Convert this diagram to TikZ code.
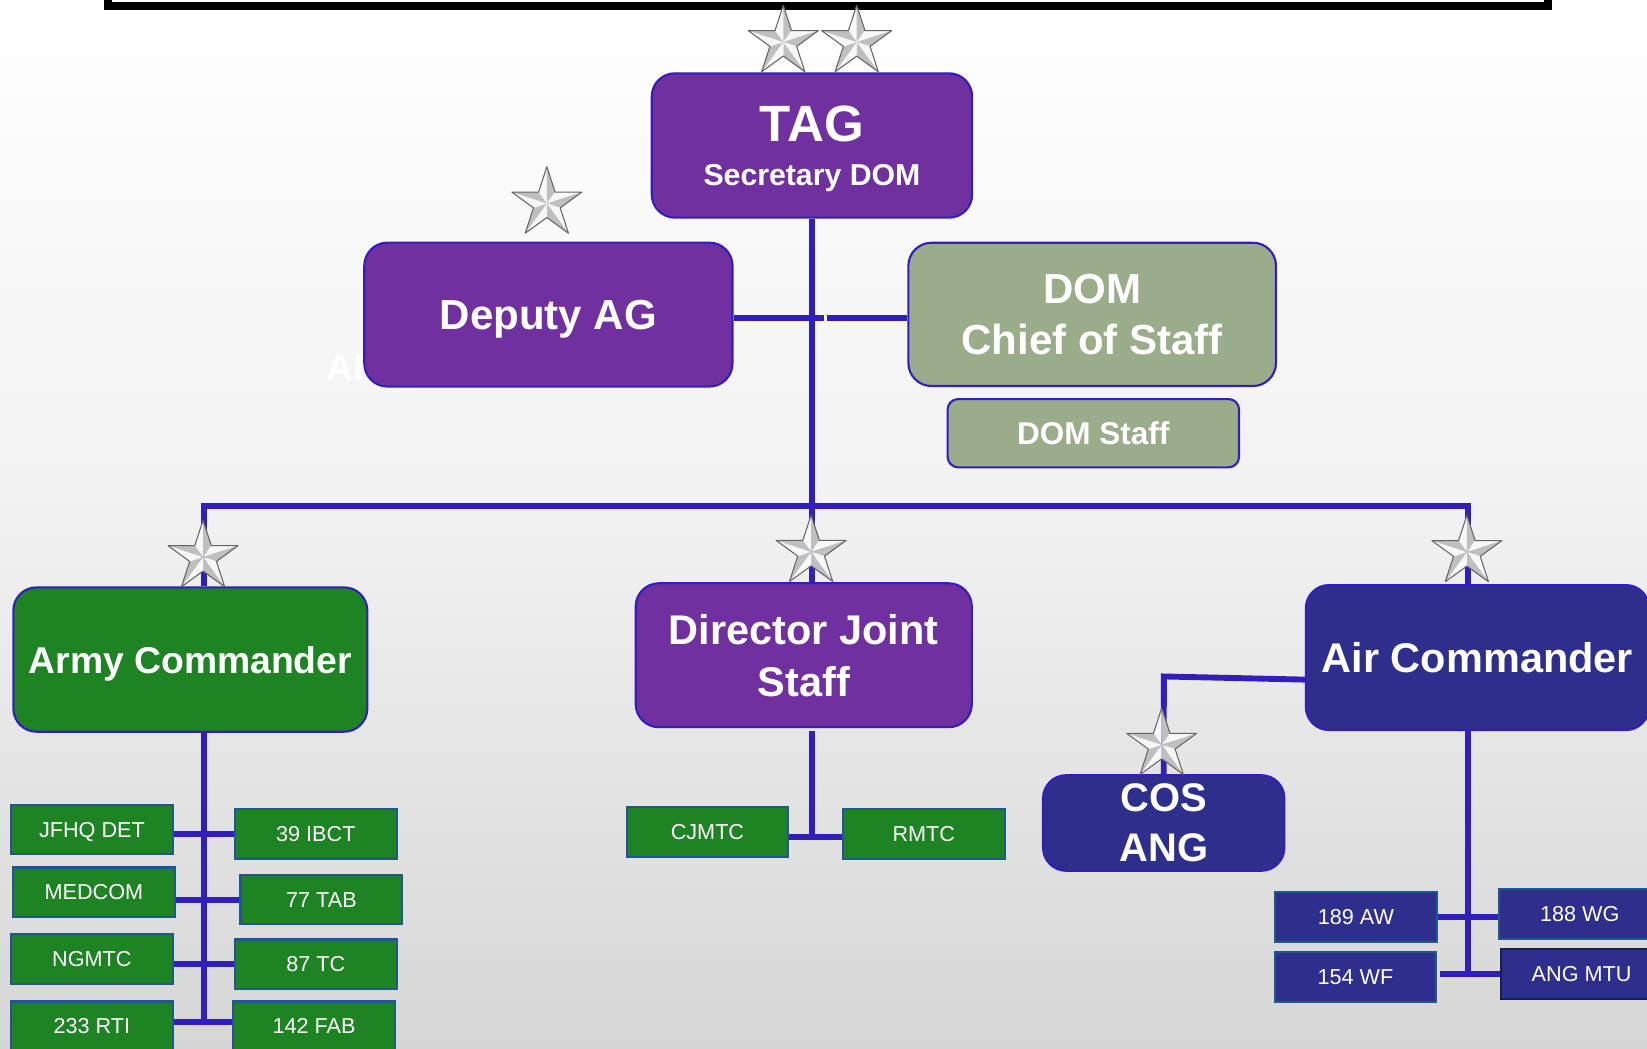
\documentclass[tikz,border=0pt]{standalone}
\usepackage{fontspec}
\setmainfont{Liberation Sans}
\definecolor{linkblue}{RGB}{50,30,190}
\definecolor{tagpurple}{RGB}{112,48,160}
\definecolor{armygreen}{RGB}{29,131,35}
\definecolor{airnavy}{RGB}{46,47,140}
\definecolor{sage}{RGB}{155,172,138}
\definecolor{unitedge}{RGB}{30,88,140}
\definecolor{mtuedge}{RGB}{20,30,90}
\definecolor{bgmid}{RGB}{241,241,241}
\definecolor{bggray}{RGB}{214,214,214}
\definecolor{starline}{RGB}{100,100,100}
\begin{document}
\begin{tikzpicture}[x=.5pt,y=-.5pt,
  link/.style={draw=linkblue,line width=2.8pt},
  bigbox/.style={draw=linkblue,line width=1pt,rounded corners=11pt,text=white,align=center,inner sep=0pt,text depth=0pt},
  unit/.style={draw=unitedge,line width=1pt,text=white,inner sep=0pt,text depth=0pt,minimum width=77pt,minimum height=23.5pt,font=\fontsize{10.3}{12}\selectfont},
  milstar/.pic={
    \foreach \k in {0,...,4}{
      \fill[gray!6] (0,0) -- ({-90+72*\k}:\starR) -- ({-126+72*\k}:\starr) -- cycle;
      \fill[gray!50] (0,0) -- ({-90+72*\k}:\starR) -- ({-54+72*\k}:\starr) -- cycle;
    }
    \draw[starline,line width=.5pt,line join=round] (-90:\starR)
      \foreach \k in {0,...,4}{ -- ({-54+72*\k}:\starr) -- ({-18+72*\k}:\starR)} -- cycle;
  }]
\def\starR{35}
\def\starr{13.4}
\useasboundingbox (0,0) rectangle (1568,998);
\clip (0,0) rectangle (1568,998);
\shade[top color=white,bottom color=bggray,middle color=bgmid] (0,0) rectangle (1568,998);
% lower edge of the title frame
\fill (99,0) rectangle (1478,9.5);
\fill[white] (107,0) rectangle (1470,1.7);
\node[text=white,font=\bfseries\fontsize{17.75}{20}\selectfont,anchor=base west] (ghost) at (303.7,361.8) {AR};

% top
\node[bigbox,fill=tagpurple,text depth=-3pt,minimum width=152.5pt,minimum height=68.7pt,font=\bfseries\fontsize{14.4}{20.75}\selectfont] (tag) at (773,138.5) {{\fontsize{24.3}{20.75}\selectfont TAG}\\Secretary DOM};
\node[bigbox,fill=tagpurple,minimum width=175.3pt,minimum height=68.5pt,font=\bfseries\fontsize{20}{24}\selectfont] (dep) at (522.1,299.5) {Deputy AG};
\node[bigbox,fill=sage,text depth=-1.5pt,minimum width=175pt,minimum height=68.2pt,font=\bfseries\fontsize{20}{24.5}\selectfont] (dom) at (1039.8,299.3) {DOM\\Chief of Staff};
\node[bigbox,fill=sage,rounded corners=5pt,minimum width=138.7pt,minimum height=32.5pt,font=\bfseries\fontsize{15}{18}\selectfont] (domstaff) at (1040.9,412.4) {DOM Staff};

% commanders
\node[bigbox,fill=armygreen,minimum width=168.5pt,minimum height=68.7pt,font=\bfseries\fontsize{17.75}{21}\selectfont] (army) at (181.2,627.9) {Army Commander};
\node[bigbox,fill=tagpurple,text depth=-1.5pt,minimum width=160pt,minimum height=68.5pt,font=\bfseries\fontsize{19.75}{24.9}\selectfont] (djs) at (765.2,623.8) {Director Joint\\Staff};
\node[bigbox,fill=airnavy,minimum width=163.4pt,minimum height=69pt,font=\bfseries\fontsize{19.75}{24}\selectfont] (air) at (1406.6,626) {Air Commander};
\node[bigbox,fill=airnavy,text depth=-2pt,minimum width=114.9pt,minimum height=45.5pt,font=\bfseries\fontsize{19}{23.8}\selectfont] (cos) at (1107.9,783.5) {COS\\ANG};

% army units
\node[unit,fill=armygreen] (jfhq) at (87.5,789.8) {JFHQ DET};
\node[unit,fill=armygreen] (ibct) at (300.7,793.8) {39 IBCT};
\node[unit,fill=armygreen] (medcom) at (89.4,849.4) {MEDCOM};
\node[unit,fill=armygreen] (tab) at (306,856.4) {77 TAB};
\node[unit,fill=armygreen] (ngmtc) at (87.5,913) {NGMTC};
\node[unit,fill=armygreen] (tc) at (300.7,917.9) {87 TC};
\node[unit,fill=armygreen] (rti) at (87.5,976.9) {233 RTI};
\node[unit,fill=armygreen] (fab) at (299,976.9) {142 FAB};
% joint units
\node[unit,fill=armygreen,minimum height=23.8pt] (cjmtc) at (673.5,792.4) {CJMTC};
\node[unit,fill=armygreen,minimum height=23.8pt] (rmtc) at (879.5,794) {RMTC};
% air units
\node[unit,fill=airnavy,minimum height=23.8pt] (aw189) at (1290.8,872.7) {189 AW};
\node[unit,fill=airnavy,minimum height=23.8pt] (wg188) at (1504,870.3) {188 WG};
\node[unit,fill=airnavy,minimum height=23.8pt] (wf154) at (1290.5,929.8) {154 WF};
\node[unit,fill=airnavy,draw=mtuedge,minimum height=23.8pt] (mtu) at (1505.7,927.5) {ANG MTU};

% trunk and bus
\coordinate (busL) at (194.4,482);
\coordinate (busM) at (773,482);
\coordinate (busR) at (1397.4,482);
\draw[link] (tag.south) -- (busM);
\draw[link] (busL |- army.north) -- (busL) -- (busR) -- (busR |- air.north);
\draw[link] (busM) -- (busM |- djs.north);
% Deputy AG -- DOM, broken at the trunk
\coordinate (gapL) at (784,303);
\coordinate (gapR) at (787,303);
\draw[link] (dep.east |- gapL) -- (gapL);
\draw[link] (gapR) -- (dom.west |- gapR);

% army branch
\coordinate (armyend) at (194.4,972.7);
\draw[link] (busL |- army.south) -- (armyend);
\draw[link] (jfhq.east |- ibct.west) -- (ibct.west);
\draw[link] (medcom.east |- tab.west) -- (tab.west);
\draw[link] (ngmtc.east |- tc.west) -- (tc.west);
\draw[link] (rti.east |- armyend) -- (fab.west |- armyend);

% joint branch
\coordinate (djsend) at (773,797);
\draw[link,shorten <=1.5pt] (djsend |- djs.south) -- (djsend);
\draw[link] (cjmtc.east |- djsend) -- (rmtc.west |- djsend);

% air branch
\coordinate (airend) at (1397.4,927.5);
\draw[link] (busR |- air.south) -- (airend);
\draw[link] (aw189.east) -- (wg188.west |- aw189.east);
\draw[link,shorten <=1.2pt] (wf154.east |- mtu.west) -- (mtu.west);
\coordinate (cosbend) at (1108,644);
\draw[link] ([yshift=-10.5pt]air.west) -- (cosbend) -- (cos.north);

% general stars
\foreach \sx/\sy in {745.7/40,815.6/40,520.6/193.7,193.3/530.3,772.2/525.3,1396.5/525.5,1106/709}
  \pic at (\sx,\sy) {milstar};
\end{tikzpicture}
\end{document}
